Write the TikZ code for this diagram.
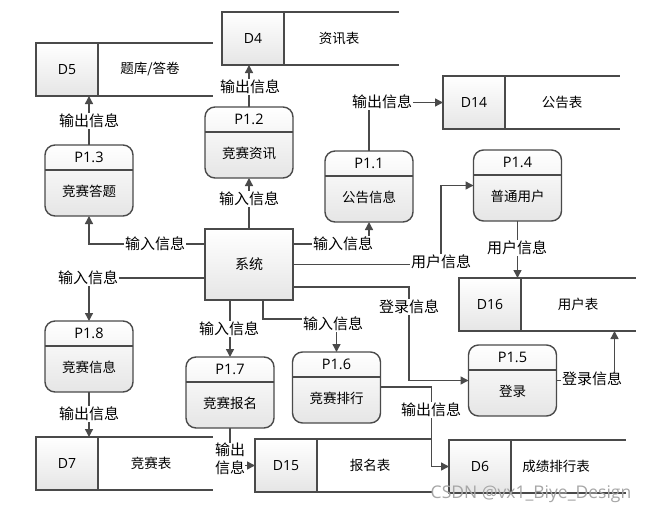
\documentclass[tikz,border=0pt]{standalone}
\usepackage{fontspec}
\setmainfont{Noto Sans CJK SC}
\newfontfamily\latinf{Open Sans}
\usetikzlibrary{arrows.meta}
\definecolor{ln}{HTML}{4A4A4A}
\tikzset{
  box/.style={draw=ln, line width=1.4pt, top color=white, bottom color=black!10, inner sep=0pt, outer sep=0pt},
  procshape/.style={box, rounded corners=10pt, minimum width=88pt, minimum height=71pt, anchor=north},
  sysshape/.style={box, minimum width=88pt, minimum height=71pt, font=\fontsize{14}{16}\selectfont},
  storeid/.style={box, minimum width=62pt, minimum height=53pt, anchor=north west, font=\latinf\fontsize{14}{16}\selectfont},
  storeline/.style={draw=ln, line width=1.4pt},
  flow/.style={draw=ln, line width=1.4pt, -{Triangle[length=8pt,width=8pt]}},
  lbl/.style={fill=white, inner sep=1pt, font=\fontsize{15}{18}\selectfont, align=center},
  ptext/.style={font=\fontsize{13.5}{16}\selectfont, inner sep=0pt},
  idtext/.style={font=\latinf\fontsize{14.5}{16}\selectfont, inner sep=0pt},
  wm/.style={font=\latinf\fontsize{17.5}{19}\selectfont, text=black!35, inner sep=0pt},
}
\newcommand\dstore[5]{% name, left, top, id, unused
  \node[storeid] (#1) at (#2,#3) {#4};
  \draw[storeline] (#1.north east) -- ++(115,0) (#1.south east) -- ++(115,0);
}
\newcommand\dstoretext[3]{% name, x, text
  \node[ptext] (#1t) at (#1.east -| #2,0) {#3};
}
\newcommand\proc[5]{% name, cx, top, id, text
  \node[procshape] (#1) at (#2,#3) {};
  \draw[storeline] ([yshift=-25pt]#1.north west) -- ([yshift=-25pt]#1.north east);
  \node[idtext] (#1i) at ([yshift=-12.5pt]#1.north) {#4};
  \node[ptext] (#1t) at ([yshift=-46pt]#1.north) {#5};
}
\begin{document}
\begin{tikzpicture}[x=1pt,y=-1pt]
\useasboundingbox (0,0) rectangle (655,514);
% data stores
\dstore{d5}{36}{43}{D5}{}\dstoretext{d5}{150}{题库/答卷}
\dstore{d4}{222}{12}{D4}{}\dstoretext{d4}{339}{资讯表}
\dstore{d14}{443}{76}{D14}{}\dstoretext{d14}{562}{公告表}
\dstore{d16}{459}{278}{D16}{}\dstoretext{d16}{578}{用户表}
\dstore{d7}{36}{437}{D7}{}\dstoretext{d7}{151}{竞赛表}
\dstore{d15}{255}{439}{D15}{}\dstoretext{d15}{370}{报名表}
\dstore{d6}{449}{440}{D6}{}\dstoretext{d6}{556}{成绩排行表}
% processes
\proc{p13}{89}{145}{P1.3}{竞赛答题}
\proc{p12}{249}{107}{P1.2}{竞赛资讯}
\proc{p11}{369}{151}{P1.1}{公告信息}
\proc{p14}{517.5}{150}{P1.4}{普通用户}
\proc{p18}{89}{321}{P1.8}{竞赛信息}
\proc{p17}{230}{357}{P1.7}{竞赛报名}
\proc{p16}{336.5}{352}{P1.6}{竞赛排行}
\proc{p15}{512.5}{345}{P1.5}{登录}
% system
\node[sysshape] (sys) at (249,264.5) {系统};
% coordinates
\coordinate (c16) at ([xshift=58pt]p15.east);
\coordinate (c6) at ([xshift=51pt]p16.east |- 0,387);
\coordinate (c14) at ([xshift=148pt]sys.east);
\coordinate (c15) at (sys.east -| 409,0);
\coordinate (c8) at (sys.south -| 263,0);
% flows
\draw[flow] (p13.north) -- (p13.north |- d5.south);
\draw[flow] (p12.north) -- (p12.north |- d4.south);
\draw[flow] (sys.north) -- (p12.south);
\draw[flow] (sys.west |- 0,244) -| (p13.south);
\draw[flow] (sys.west |- 0,278) -| (p18.north);
\draw[flow] (p18.south) -- (p18.south |- d7.north);
\draw[flow] (p17.north |- sys.south) -- (p17.north);
\draw[flow] (c8) -- ++(0,19) -| (p16.north);
\draw[flow] (p17.south) |- (d15.west);
\draw[flow] (p16.east |- 0,387) -- (c6) |- (d6.west);
\draw[flow] (sys.east |- 0,244) -| (p11.south);
\draw[flow] (sys.east) -- (c14) |- (p14.west);
\draw[flow] (sys.east |- 0,287) -- (c15 |- 0,287) |- (p15.west);
\draw[flow] (p11.north) |- (d14.west);
\draw[flow] (p14.south) -- (p14.south |- d16.north);
\draw[flow] (p15.east) -| (c16 |- d16.south);
% labels
\node[lbl] (l1) at (89,121) {输出信息};
\node[lbl] (l2) at (250,87) {输出信息};
\node[lbl] (l3) at (249,199) {输入信息};
\node[lbl] (l4) at (155,244) {输入信息};
\node[lbl] (l5) at (88,278) {输入信息};
\node[lbl] (l6) at (89,414) {输出信息};
\node[lbl] (l7) at (229,329) {输入信息};
\node[lbl] (l8) at (333,324) {输入信息};
\node[lbl, inner sep=0pt] (l9) at (230,459) {输出\\信息};
\node[lbl] (l10) at (431,410) {输出信息};
\node[lbl] (l11) at (343,244) {输入信息};
\node[lbl] (l12) at (441,262) {用户信息};
\node[lbl] (l13) at (409,307) {登录信息};
\node[lbl] (l14) at (382,102) {输出信息};
\node[lbl] (l15) at (517,248) {用户信息};
\node[lbl] (l16) at (592,379) {登录信息};
\node[wm] (wm) at (531,494) {CSDN @vx1\_Biye\_Design};
\end{tikzpicture}
\end{document}
